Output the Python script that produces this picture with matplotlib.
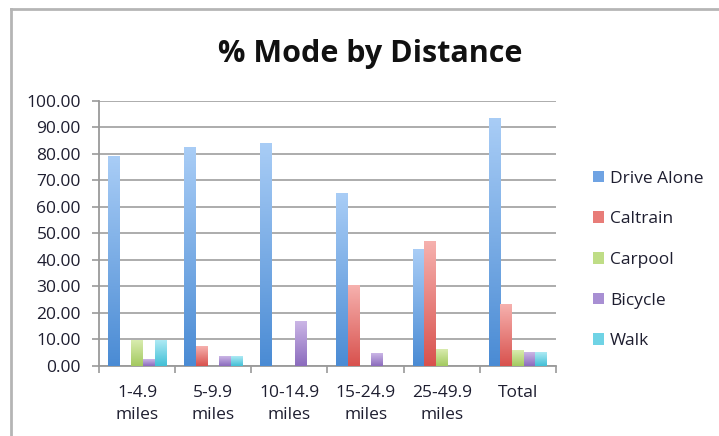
import matplotlib
matplotlib.use('Agg')
import matplotlib.pyplot as plt
import numpy as np
from matplotlib.colors import LinearSegmentedColormap
from matplotlib.patches import Patch

plt.rcParams['font.family'] = ['Open Sans', 'DejaVu Sans']

distances = ['1-4.9\nmiles', '5-9.9\nmiles', '10-14.9\nmiles', '15-24.9\nmiles', '25-49.9\nmiles', 'Total']
modes = ['Drive Alone', 'Caltrain', 'Carpool', 'Bicycle', 'Walk']

drive_alone = [78.9, 82.3, 83.9, 65.1, 44.0, 93.4]
caltrain = [0.0, 7.3, 0.0, 30.2, 46.9, 23.2]
carpool = [9.5, 0.0, 0.0, 0.0, 6.3, 6.0]
bicycle = [2.3, 3.5, 16.7, 4.8, 0.0, 5.0]
walk = [9.5, 3.5, 0.0, 0.0, 0.0, 5.0]
series = [drive_alone, caltrain, carpool, bicycle, walk]

# (light top, dark bottom) for each series' gradient fill
shades = [('#a9cdf6', '#4a8bd4'),
          ('#f6b1ae', '#d8514d'),
          ('#d9ecaf', '#a3c95f'),
          ('#cbb6e6', '#8b6bbd'),
          ('#aeeaf4', '#41bfd6')]
legend_colors = ['#6fa3e3', '#e87c78', '#bfdd86', '#a88fd3', '#6fd3e5']
txt = '#1e1e30'

fig = plt.figure(figsize=(7.19, 4.36), dpi=100)
ax = fig.add_axes([99 / 719, 70 / 436, 457 / 719, 265.3 / 436])

x = np.arange(len(distances))
width = 0.153
grad = np.linspace(1, 0, 256).reshape(-1, 1)
for i, (vals, (light, dark)) in enumerate(zip(series, shades)):
    cmap = LinearSegmentedColormap.from_list('m%d' % i, [dark, light])
    offs = (i - 2) * width
    for xi, v in zip(x, vals):
        if v <= 0:
            continue
        left = xi + offs - width / 2
        ax.imshow(grad, extent=[left, left + width, 0, v], cmap=cmap,
                  aspect='auto', zorder=3, interpolation='bilinear')

ax.set_xlim(-0.5, len(distances) - 0.5)
ax.set_ylim(0, 100)
ax.set_yticks(np.arange(0, 101, 10))
ax.set_yticklabels(['%.2f' % t for t in np.arange(0, 101, 10)], fontweight='medium')
ax.set_xticks(x)
ax.set_xticklabels(distances, linespacing=1.5, fontweight='medium')
ax.set_xticks(np.arange(-0.5, len(distances)), minor=True)
ax.tick_params(axis='x', which='major', length=0, pad=14, labelsize=12.5, labelcolor=txt)
ax.tick_params(axis='x', which='minor', length=5, width=1.2, color='#9a9a9a')
ax.tick_params(axis='y', length=5, width=1.2, color='#9a9a9a', labelsize=12.5, labelcolor=txt, pad=8)
ax.grid(axis='y', color='#a6a6a6', linewidth=1.3, zorder=0)
ax.set_axisbelow(True)
for side in ['top', 'right']:
    ax.spines[side].set_visible(False)
for side in ['left', 'bottom']:
    ax.spines[side].set_color('#9a9a9a')
    ax.spines[side].set_linewidth(1.3)

handles = [Patch(facecolor=c, edgecolor='none') for c in legend_colors]
fig.legend(handles, modes, loc='upper left', bbox_to_anchor=(577 / 719, 1 - 155 / 436),
           frameon=False, handlelength=0.65, handleheight=0.65,
           handletextpad=0.35, labelspacing=1.42, labelcolor=txt,
           prop={'size': 12.5, 'weight': 'medium'})

fig.text(370 / 719, 1 - 62 / 436, '% Mode by Distance', ha='center', va='baseline',
         fontsize=22, fontweight='bold', color='#111111')

# outer chart frame (left and top edges)
fig.add_artist(plt.Line2D([11 / 719, 11 / 719], [0, 1 - 9 / 436], transform=fig.transFigure,
                          color='#b5b5b5', linewidth=2))
fig.add_artist(plt.Line2D([11 / 719, 1], [1 - 9 / 436, 1 - 9 / 436], transform=fig.transFigure,
                          color='#b5b5b5', linewidth=2))

fig.savefig('out.png', dpi=100)
